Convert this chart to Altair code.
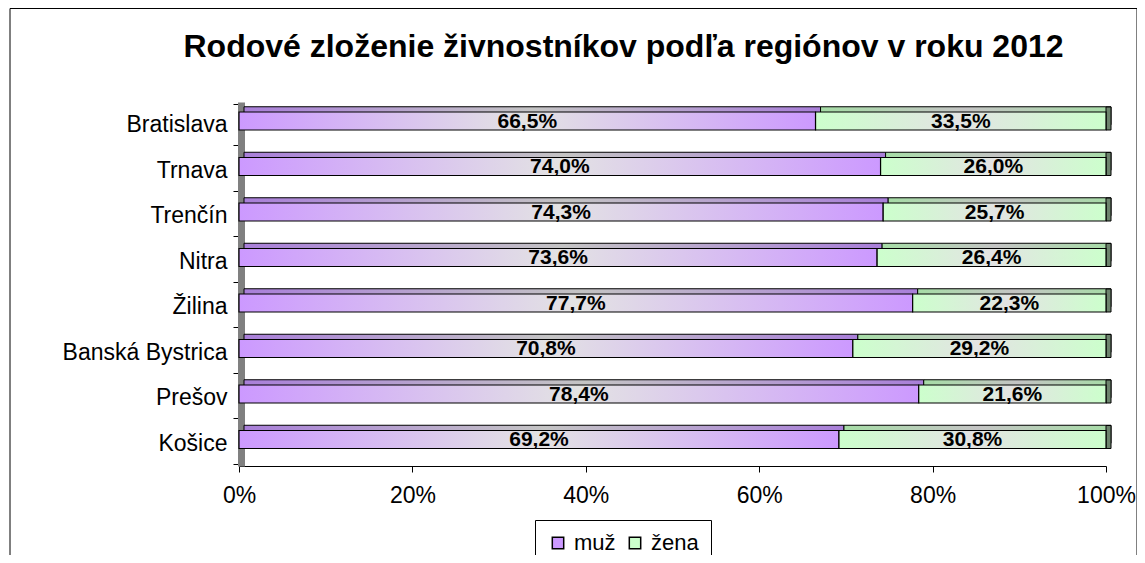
import altair as alt
import pandas as pd

regions = ["Bratislava", "Trnava", "Trenčín", "Nitra", "Žilina",
           "Banská Bystrica", "Prešov", "Košice"]
muz = [66.5, 74.0, 74.3, 73.6, 77.7, 70.8, 78.4, 69.2]
zena = [33.5, 26.0, 25.7, 26.4, 22.3, 29.2, 21.6, 30.8]
sexes = ["muž", "žena"]
x_ticks = [0, 20, 40, 60, 80, 100]
title_text = "Rodové zloženie živnostníkov podľa regiónov v roku 2012"

rows = []
for r, m, z in zip(regions, muz, zena):
    rows.append({"region": r, "sex": "muž", "pct": m, "start": 0.0, "end": m})
    rows.append({"region": r, "sex": "žena", "pct": z, "start": m, "end": m + z})
df = pd.DataFrame(rows)
df["mid"] = (df["start"] + df["end"]) / 2
df["label"] = df["pct"].map(lambda v: f"{v:.1f}".replace(".", ",") + "%")

FONT = "Liberation Sans"


def grad(edge, mid):
    return alt.Gradient(
        gradient="linear",
        stops=[alt.GradientStop(color=edge, offset=0),
               alt.GradientStop(color=mid, offset=0.5),
               alt.GradientStop(color=edge, offset=1)],
        x1=0, x2=1, y1=0, y2=0,
    )


base = alt.Chart(df)
x_enc = alt.X(
    "start:Q",
    scale=alt.Scale(domain=[0, 100], nice=False),
    axis=alt.Axis(title=None, values=x_ticks, labelExpr="datum.value + '%'",
                  labelFontSize=23, tickSize=6, labelPadding=12,
                  labelFlush=False,
                  domainColor="black", tickColor="black", grid=False),
)
y_enc = alt.Y(
    "region:N", sort=regions,
    axis=alt.Axis(title=None, labelFontSize=23, tickBand="extent", tickSize=8,
                  labelPadding=6, domainColor="#808080", domainWidth=7,
                  offset=-2, tickColor="black"),
)

frame = alt.Chart(pd.DataFrame({"k": [0]})).mark_rect(
    fillOpacity=0, stroke="black", strokeWidth=1
).encode(x=alt.value(-229), x2=alt.value(898), y=alt.value(-93.5), y2=alt.value(480))

is_m = alt.datum.sex == "muž"
is_z = alt.datum.sex == "žena"

back_m = base.transform_filter(is_m).mark_bar(
    size=18, fill=grad("#a97fd9", "#c4c4c4"), stroke="black", strokeWidth=1,
    xOffset=5, x2Offset=5, yOffset=-9,
).encode(x=x_enc, x2="end:Q", y=y_enc)

back_z = base.transform_filter(is_z).mark_bar(
    size=18, fill=grad("#a6dca6", "#c4c4c4"), stroke="black", strokeWidth=1,
    xOffset=5, x2Offset=5, yOffset=-9,
).encode(x=x_enc, x2="end:Q", y=y_enc)

cap_z = base.transform_filter(is_z).mark_bar(
    size=23, fill="#6d836d", stroke="black", strokeWidth=1,
    x2Offset=5, yOffset=-6.25,
).encode(x=alt.X("end:Q"), x2="end:Q", y=y_enc)

front_m = base.transform_filter(is_m).mark_bar(
    size=18, fill=grad("#cc99ff", "#e3e3e3"), stroke="black", strokeWidth=1.2,
    yOffset=-3.75,
).encode(x=x_enc, x2="end:Q", y=y_enc)

front_z = base.transform_filter(is_z).mark_bar(
    size=18, fill=grad("#ccffcc", "#e3e3e3"), stroke="black", strokeWidth=1.2,
    yOffset=-3.75,
).encode(x=x_enc, x2="end:Q", y=y_enc)

labels = base.mark_text(
    font=FONT, fontSize=21, fontWeight="bold", color="black",
    baseline="middle", align="center", yOffset=-3,
).encode(x=alt.X("mid:Q"), y=y_enc, text="label:N")

legend_layer = base.mark_point(shape="square", filled=True, opacity=0).encode(
    x=alt.X("start:Q"), y=y_enc,
    color=alt.Color(
        "sex:N",
        scale=alt.Scale(domain=sexes, range=["#cc99ff", "#ccffcc"]),
        legend=alt.Legend(
            title=None, orient="none", legendX=296, legendY=418,
            direction="horizontal", labelFont=FONT, labelFontSize=22,
            labelColor="black", symbolType="square", symbolSize=130,
            symbolOpacity=1, symbolStrokeColor="black", symbolStrokeWidth=1.5,
            strokeColor="black", fillColor="white", padding=12,
            columnPadding=8, labelOffset=5,
        ),
    ),
)

chart = alt.layer(
    frame, back_m, back_z, cap_z, front_m, front_z, labels, legend_layer
).properties(
    width=867, height=364,
    padding={"left": 231, "top": 94, "right": 31, "bottom": 89},
    autosize=alt.AutoSizeParams(type="none"),
    title=alt.TitleParams(
        text=title_text, font=FONT, fontSize=32, fontWeight="bold",
        color="black", anchor="middle", frame="group", dx=-49,
        offset=-81, baseline="alphabetic",
    ),
).configure_axis(
    labelFont=FONT, labelColor="black",
).configure_view(
    strokeWidth=0,
)

chart.save("out.html", embed_options={"renderer": "svg", "actions": False})
